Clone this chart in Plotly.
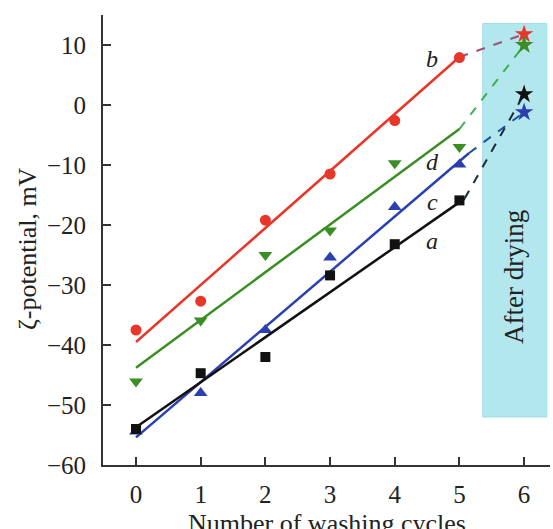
import plotly.graph_objects as go

cycles = [0, 1, 2, 3, 4, 5]
dried_x = [6]

# measured zeta-potential (mV)
b_vals = [-37.5, -32.7, -19.2, -11.5, -2.6, 7.9]
d_vals = [-46.1, -35.9, -25.0, -20.9, -9.7, -7.0]
c_vals = [-54.4, -48.0, -37.5, -25.4, -17.0, -9.9]
a_vals = [-54.0, -44.7, -42.0, -28.4, -23.2, -15.9]

# after drying (stars)
b_dry = [11.8]
d_dry = [10.0]
c_dry = [-1.2]
a_dry = [1.8]

# linear fit end points
fit_x = [0, 5]
b_fit = [-39.5, 8.0]
d_fit = [-43.8, -4.0]
c_fit_x = [0, 5.15]
c_fit = [-55.4, -8.0]
a_fit_x = [0, 5.08]
a_fit = [-53.7, -15.6]

series = [
    ("b", b_vals, b_dry, fit_x, b_fit, "#e8372a", "circle", 11),
    ("d", d_vals, d_dry, fit_x, d_fit, "#3a8e23", "triangle-down", 12),
    ("c", c_vals, c_dry, c_fit_x, c_fit, "#2b40b0", "triangle-up", 12),
    ("a", a_vals, a_dry, a_fit_x, a_fit, "#111111", "square", 10),
]
dash_colors = {"b": "#a0507a", "d": "#3cb050", "c": "#1f4f9a", "a": "#1a2a3a"}

FONT = "Liberation Serif"
fig = go.Figure()

fig.add_shape(type="rect", x0=5.36, x1=6.35, y0=-52, y1=13.6, xref="x", yref="y",
              fillcolor="#b2e7ee", line=dict(color="#9fdce6", width=1), layer="below")

for name, vals, dry, fx, fy, col, sym, ms in series:
    fig.add_trace(go.Scatter(x=fx, y=fy, mode="lines", line=dict(color=col, width=2.5),
                             showlegend=False, hoverinfo="skip"))
    fig.add_trace(go.Scatter(x=[fx[-1], dried_x[0]], y=[fy[-1], dry[0]], mode="lines",
                             line=dict(color=dash_colors[name], width=2, dash="dash"),
                             showlegend=False, hoverinfo="skip"))
    fig.add_trace(go.Scatter(x=cycles, y=vals, mode="markers",
                             marker=dict(symbol=sym, size=ms, color=col), showlegend=False))
    fig.add_trace(go.Scatter(x=dried_x, y=dry, mode="markers",
                             marker=dict(symbol="star", size=14, color=col), showlegend=False))

labels = [("b", 4.58, 7.6), ("d", 4.58, -9.5), ("c", 4.58, -16.2), ("a", 4.58, -22.7)]
for t, x, y in labels:
    fig.add_annotation(x=x, y=y, text=f"<i>{t}</i>", showarrow=False,
                       font=dict(family=FONT, size=24, color="#222"))

fig.add_annotation(x=5.84, y=-28.7, text="After drying", textangle=-90, showarrow=False,
                   font=dict(family=FONT, size=27, color="#222"))

fig.add_annotation(xref="paper", yref="paper", x=0.5, y=0, yanchor="top", yshift=-42,
                   text="Number of washing cycles", showarrow=False,
                   font=dict(family=FONT, size=26, color="#222"))
fig.add_annotation(xref="paper", yref="y", x=0, xanchor="center", xshift=-76, y=-24.0,
                   text="ζ-potential, mV", textangle=-90, showarrow=False,
                   font=dict(family=FONT, size=26, color="#222"))

fig.update_layout(
    width=553, height=529,
    margin=dict(l=103, r=3, t=15, b=64),
    plot_bgcolor="white", paper_bgcolor="white",
    font=dict(family=FONT, size=26, color="#222"),
    xaxis=dict(range=[-0.51, 6.40], tickvals=[0, 1, 2, 3, 4, 5, 6], ticks="inside",
               ticklen=8, tickwidth=1.5, tickcolor="#333", showline=True, linecolor="#333",
               linewidth=2, showgrid=False, zeroline=False, ticklabelstandoff=6,
               tickfont=dict(family=FONT, size=25, color="#222")),
    yaxis=dict(range=[-60, 15], tickvals=[-60, -50, -40, -30, -20, -10, 0, 10], ticks="inside",
               ticklen=8, tickwidth=1.5, tickcolor="#333", showline=True, linecolor="#333",
               linewidth=2, showgrid=False, zeroline=False, ticklabelstandoff=10,
               tickfont=dict(family=FONT, size=25, color="#222")),
)

fig.write_html("out.html")
